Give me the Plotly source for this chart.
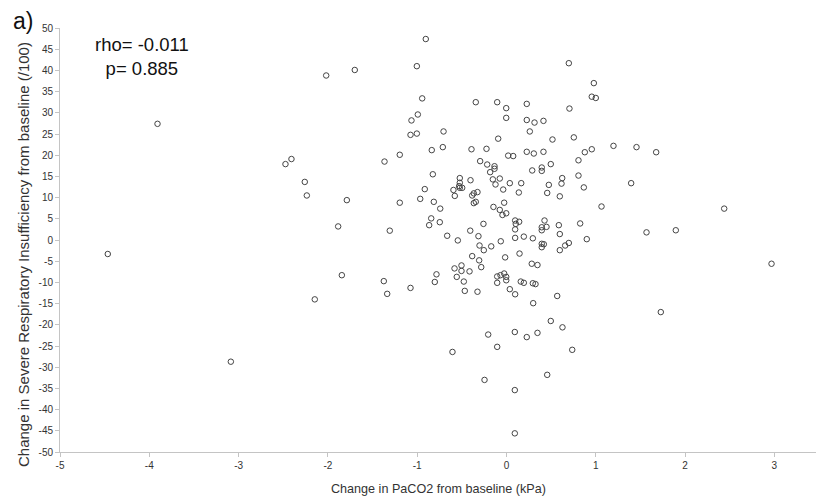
import plotly.graph_objects as go

# Change in PaCO2 from baseline (kPa)
paco2_change = [
    -4.465, -3.908, -3.087, -2.475, -2.408, -2.259, -2.236, -2.147, -2.019,
    -0.904, -1.699, -1.004, -0.944, -0.344, -0.104, -0.003, 0.227, -0.993, -1.064,
    -0.003, 0.227, -1.075, -1.004, -0.705, 0.261, -0.093, -0.837, -0.713, -0.392,
    -0.224, 0.227, -1.195, -1.366, -0.295, 0.019, 0.075, -0.216, -0.134, -0.134,
    -0.183, -0.825, -0.523, -0.153, -0.075, -0.403, -0.523, 0.037, 0.165, -0.123,
    -0.530, -0.523, -0.496, -0.915, -0.594, -0.037, -0.325, 0.138, -0.366, -0.384,
    -0.579, -1.788, -0.966,
    -1.195, -0.814, -0.366, -0.344, -0.026, -0.742, -0.146, -0.075, -0.045, -0.003,
    -0.843, -0.866, -0.747, -1.885, -1.307, -0.258, 0.097, 0.142, 0.104, 0.097,
    -0.406, -0.664, -0.545, -0.314, 0.097, 0.194, -0.064, -0.302, -0.254, -0.171,
    -0.384, -0.306, -0.015, 0.146, -0.504, -0.582, -0.283, -0.504, -0.414, -1.844,
    -0.784, -0.557, -0.104, -0.067, -0.026, -0.003, -1.374, -0.803, -0.478, -0.104,
    -0.003, 0.160, 0.194, -1.336, -1.075, -0.467, -0.325, 0.037, 0.097,
    -0.205, 0.093, 0.227, -0.104, -0.605, -0.246, 0.093, 0.093,
    0.698, 0.978, 0.955, 1.000, 0.705, 0.314, 0.414, 0.515, 0.754, 0.306, 0.414,
    0.877, 0.955, 1.198, 1.456, 1.676, 0.806, 0.496, 0.395, 0.395, 0.288, 0.624,
    0.806, 0.474, 0.616, 0.866, 1.396, 0.456, 0.597, 1.064, 2.438, 0.426, 0.395,
    0.448, 0.395, 0.586, 0.825, 0.597, 0.295, 0.899, 1.568, 1.896,
    0.395, 0.418, 0.395, 0.597, 0.657, 0.698, 0.283, 0.347, 2.968, 0.295, 0.325,
    0.568, 0.299, 1.728, 0.496, 0.627, 0.347, 0.736, 0.456,
]

# Change in Severe Respiratory Insufficiency from baseline (/100)
sri_change = [
    -3.3, 27.4, -28.7, 17.9, 19.1, 13.7, 10.5, -14.0, 38.8,
    47.4, 40.1, 41.0, 33.4, 32.5, 32.5, 31.1, 32.1, 29.6, 28.2,
    28.8, 28.3, 24.8, 25.1, 25.6, 25.6, 23.9, 21.2, 21.9, 21.4,
    21.5, 20.8, 20.1, 18.5, 18.6, 19.9, 19.8, 17.8, 17.4, 16.8,
    16.0, 15.5, 14.6, 14.3, 14.5, 14.1, 13.5, 13.4, 13.4, 13.1,
    12.7, 12.3, 12.3, 12.0, 11.8, 11.9, 11.3, 11.2, 11.0, 10.5,
    10.4, 9.4, 9.7,
    8.8, 9.0, 8.7, 9.0, 8.8, 7.4, 7.8, 7.1, 5.9, 6.3,
    5.1, 3.5, 4.2, 3.2, 2.2, 3.8, 4.6, 4.3, 3.8, 2.5,
    2.2, 1.0, -0.1, 0.9, 0.5, 0.8, -0.3, -1.3, -2.4, -1.5,
    -3.8, -4.8, -4.1, -3.2, -6.0, -6.7, -6.4, -7.3, -7.4, -8.3,
    -8.1, -8.7, -8.6, -8.3, -7.9, -8.7, -9.7, -9.9, -9.8, -10.1,
    -9.5, -9.8, -10.1, -12.7, -11.3, -12.0, -12.2, -11.6, -12.8,
    -22.3, -21.7, -22.9, -25.2, -26.4, -33.0, -35.4, -45.6,
    41.7, 37.0, 33.8, 33.5, 31.0, 27.7, 28.1, 23.7, 24.2, 20.4, 20.8,
    20.7, 21.4, 22.2, 21.9, 20.7, 18.8, 17.9, 17.1, 16.3, 16.4, 14.6,
    15.2, 13.0, 13.3, 12.4, 13.4, 11.1, 10.3, 7.9, 7.4, 4.6, 3.0,
    3.1, 2.3, 3.5, 3.9, 1.4, 0.4, 0.2, 1.8, 2.3,
    -0.9, -1.0, -1.7, -2.4, -1.3, -0.7, -5.6, -5.9, -5.6, -10.2, -10.4,
    -13.2, -14.9, -17.0, -19.1, -20.6, -21.9, -25.9, -31.8,
]

x_ticks = [-5, -4, -3, -2, -1, 0, 1, 2, 3]
y_ticks = list(range(-50, 55, 5))

fig = go.Figure()
fig.add_trace(go.Scatter(
    x=paco2_change, y=sri_change, mode="markers",
    marker=dict(symbol="circle-open", size=5.5, color="#444444", line=dict(width=1, color="#444444")),
    showlegend=False, hoverinfo="skip",
))

axis_common = dict(
    showgrid=False, zeroline=False, showline=True, linecolor="#c4c4c4", linewidth=1,
    ticks="outside", ticklen=4, tickcolor="#c4c4c4", tickwidth=1,
    tickfont=dict(family="Liberation Sans Narrow, Liberation Sans, Arial, sans-serif", size=10, color="#333333"),
)

fig.update_layout(
    width=816, height=497,
    margin=dict(l=60, r=0, t=28, b=45),
    paper_bgcolor="white", plot_bgcolor="white",
    xaxis=dict(range=[-5, 3.466], tickvals=x_ticks, ticktext=[str(v) for v in x_ticks], **axis_common),
    yaxis=dict(range=[-50, 50], tickvals=y_ticks, ticktext=[str(v) for v in y_ticks], **axis_common),
    font=dict(family="Liberation Sans, Arial, sans-serif"),
)

fig.add_annotation(text="Change in PaCO2 from baseline (kPa)", xref="paper", yref="paper",
                   x=0.5, y=0, yshift=-37, showarrow=False,
                   font=dict(size=12.6, color="#333333"), xanchor="center", yanchor="middle")
fig.add_annotation(text="Change in Severe Respiratory Insufficiency from baseline (/100)",
                   xref="paper", yref="paper", x=0, y=0.5, xshift=-37, yshift=-15, textangle=-90,
                   showarrow=False, font=dict(size=15, color="#333333"),
                   xanchor="center", yanchor="middle")
fig.add_annotation(text="a)", xref="paper", yref="paper", x=0, y=1, xshift=-49, yshift=7,
                   showarrow=False, font=dict(size=23, color="#111111"),
                   xanchor="left", yanchor="middle")
fig.add_annotation(text="rho= -0.011<br>p= 0.885", xref="paper", yref="paper",
                   x=0, y=1, xshift=82, yshift=-28, showarrow=False, align="center",
                   font=dict(size=18.5, color="#111111"), xanchor="center", yanchor="middle")

fig.write_html("out.html")
